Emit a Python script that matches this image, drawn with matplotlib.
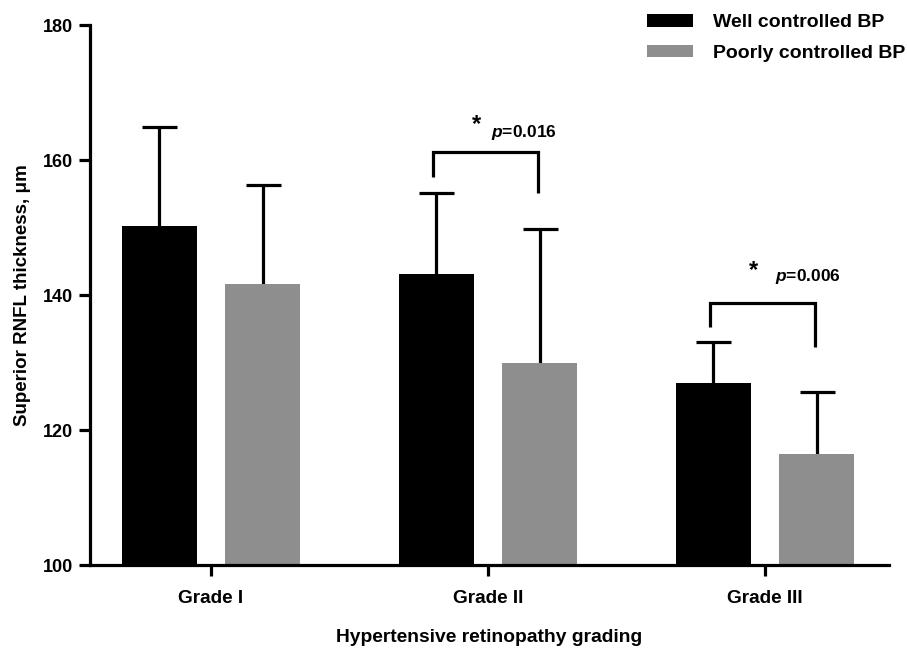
import matplotlib.pyplot as plt
from matplotlib.patches import Patch
import numpy as np

plt.rcParams['font.family'] = ['Liberation Sans', 'DejaVu Sans']
plt.rcParams['font.weight'] = 'bold'
plt.rcParams['mathtext.fontset'] = 'custom'
plt.rcParams['mathtext.it'] = 'Liberation Sans:italic:bold'
plt.rcParams['mathtext.rm'] = 'Liberation Sans:bold'

grades = ["Grade I", "Grade II", "Grade III"]
well_mean = [150.2, 143.1, 127.0]
well_err = [14.7, 12.0, 6.0]
poor_mean = [141.6, 129.9, 116.4]
poor_err = [14.7, 19.9, 9.2]
series_names = ["Well controlled BP", "Poorly controlled BP"]
p_values = ["0.016", "0.006"]

black = "#000000"
grey = "#8e8e8e"
lw = 2.3

fig = plt.figure(figsize=(9.07, 6.48), dpi=100)
ax = fig.add_axes([0.0992, 0.128, 0.881, 0.833])

x = np.arange(len(grades))
off = 0.187
w = 0.271

ax.bar(x - off, well_mean, w, color=black, zorder=2)
ax.bar(x + off, poor_mean, w, color=grey, zorder=2)

# upper error bars only, drop the lower caps
for xs, m, e, z in [(x - off, well_mean, well_err, 3), (x + off, poor_mean, poor_err, 1)]:
    eb = ax.errorbar(xs, m, yerr=[np.zeros(3), e], fmt='none', ecolor=black,
                     elinewidth=lw, capsize=12.6, capthick=lw, zorder=z)
    for cl in eb[1]:
        if np.allclose(cl.get_ydata(), m):
            cl.set_visible(False)

ax.set_ylim(100, 180)
ax.set_xlim(-0.437, 2.448)
ax.set_yticks([100, 120, 140, 160, 180])
ax.set_xticks(x)
ax.set_xticklabels(grades)

for s in ["top", "right"]:
    ax.spines[s].set_visible(False)
for s in ["left", "bottom"]:
    ax.spines[s].set_linewidth(lw)
ax.tick_params(axis='y', length=8, width=lw, labelsize=13, pad=4)
ax.tick_params(axis='x', length=8, width=lw, labelsize=13.7, pad=10)

ax.set_xlabel("Hypertensive retinopathy grading", fontsize=13.9, fontweight='bold', labelpad=16)
ax.set_ylabel("Superior RNFL thickness, \u03bcm", fontsize=13.5, fontweight='bold', labelpad=9)

# significance brackets
brackets = [
    (1, 157.5, 155.1, 161.2, 165.3, 164.1, p_values[0]),
    (2, 135.3, 132.3, 138.8, 143.7, 142.8, p_values[1]),
]
for g, yl, yr, ytop, ystar, yp, pv in brackets:
    xl = g - 0.199
    xr = g + 0.18
    ax.plot([xl, xl, xr, xr], [yl, ytop, ytop, yr], color=black, lw=lw,
            solid_capstyle='butt', solid_joinstyle='miter', zorder=4)
    ax.text(g - 0.04, ystar, "*", fontsize=17, fontweight='bold', ha='center', va='center')
    ax.text(g + 0.01 + (0.026 if g == 2 else 0), yp, r"$\mathit{p}$=" + pv,
            fontsize=12.5, fontweight='bold', ha='left', va='center')

handles = [Patch(facecolor=black, edgecolor='none'), Patch(facecolor=grey, edgecolor='none')]
leg = fig.legend(handles, series_names, loc='upper left', bbox_to_anchor=(0.6935, 1.005),
                 frameon=False, fontsize=14, handlelength=2.4, handleheight=0.6,
                 handletextpad=1.0, labelspacing=0.68)
for t in leg.get_texts():
    t.set_fontweight('bold')

fig.savefig("out.png", dpi=100)
